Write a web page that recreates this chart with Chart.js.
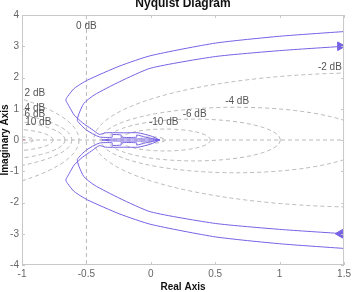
<!DOCTYPE html>
<html>
<head>
<meta charset="utf-8">
<script src="https://cdn.jsdelivr.net/npm/chart.js@4/dist/chart.umd.min.js"></script>
<style>
  html, body { margin: 0; padding: 0; background: #fff; }
  #wrap { width: 354px; height: 292px; }
</style>
</head>
<body>
<div id="wrap"><canvas id="grafica-nyquist"></canvas></div>
<script>
// datos
var xTicks = [-1, -0.5, 0, 0.5, 1, 1.5];
var yTicks = [-4, -3, -2, -1, 0, 1, 2, 3, 4];

// rama exterior superior
var outerUpRe = [1.5, 1.0, 0.5, 0.0, -0.24, -0.49, -0.595, -0.646, -0.66, -0.633, -0.595, -0.53, -0.46, -0.40, -0.35, -0.2, -0.1, 0.0, 0.07];
var outerUpIm = [3.47, 3.32, 3.1, 2.7, 2.37, 1.92, 1.65, 1.39, 1.28, 1.07, 0.8, 0.55, 0.35, 0.18, 0.23, 0.23, 0.23, 0.13, 0.0];
// rama interior superior
var innerUpRe = [1.5, 1.0, 0.5, 0.0, -0.24, -0.44, -0.52, -0.557, -0.57, -0.50, -0.40, -0.30, -0.30, -0.23, -0.23, -0.11, -0.11, -0.04, 0.07];
var innerUpIm = [3.0, 2.86, 2.67, 2.3, 1.87, 1.44, 1.17, 0.85, 0.62, 0.32, 0.10, 0.09, 0.17, 0.16, 0.09, 0.09, 0.16, 0.09, 0.0];
// rama exterior inferior
var outerDnRe = [1.5, 1.0, 0.5, 0.0, -0.24, -0.49, -0.595, -0.646, -0.66, -0.633, -0.595, -0.53, -0.46, -0.40, -0.35, -0.2, -0.1, 0.0, 0.07];
var outerDnIm = [-3.47, -3.32, -3.1, -2.7, -2.37, -1.92, -1.65, -1.39, -1.28, -1.07, -0.8, -0.55, -0.35, -0.18, -0.23, -0.23, -0.23, -0.13, 0.0];
// rama interior inferior
var innerDnRe = [1.5, 1.0, 0.5, 0.0, -0.24, -0.44, -0.52, -0.557, -0.57, -0.50, -0.40, -0.30, -0.30, -0.23, -0.23, -0.11, -0.11, -0.04, 0.07];
var innerDnIm = [-3.0, -2.86, -2.67, -2.3, -1.87, -1.44, -1.17, -0.85, -0.62, -0.32, -0.10, -0.09, -0.17, -0.16, -0.09, -0.09, -0.16, -0.09, 0.0];
// nucleo cerca del origen
var coreRe = [-0.38, -0.3, 0.0, 0.07, 0.0, -0.3, -0.38];
var coreIm = [0.0, 0.03, 0.03, 0.0, -0.03, -0.03, 0.0];

// flechas
var arrowRe = [1.47, 1.47];
var arrowIm = [3.0, -3.0];

// circulos M (dB) y sus etiquetas
var mLevels = [20, 10, 6, 4, 2, -2, -4, -6, -10, -20];
var gridLabels = ['0 dB', '2 dB', '4 dB', '6 dB', '10 dB', '-10 dB', '-6 dB', '-4 dB', '-2 dB'];
var labelRe = [-0.5, -0.9, -0.9, -0.9, -0.874, 0.10, 0.34, 0.67, 1.39];
var labelIm = [3.65, 1.5, 1.02, 0.82, 0.56, 0.56, 0.83, 1.25, 2.34];

var morado = 'rgb(118,98,228)';
var grisRejilla = 'rgb(185,185,185)';
var fuente = '"Liberation Sans", Arial, sans-serif';

function puntos(re, im){
    return re.map(function(v, i){ return {x: v, y: im[i]}; });
}
function serie(re, im){
    return {
        data: puntos(re, im),
        showLine: true,
        borderColor: morado,
        borderWidth: 1,
        pointRadius: 0,
        tension: 0.2
    };
}

var rejillaM = {
    id: 'rejillaM',
    beforeDatasetsDraw: function(chart){
        var ctx = chart.ctx, a = chart.chartArea;
        var sx = chart.scales.x, sy = chart.scales.y;
        ctx.save();
        ctx.beginPath();
        ctx.rect(a.left, a.top, a.right - a.left, a.bottom - a.top);
        ctx.clip();
        ctx.strokeStyle = grisRejilla;
        ctx.lineWidth = 1;
        ctx.setLineDash([4, 3]);
        mLevels.forEach(function(db){
            var m2 = Math.pow(10, db / 10);
            var c = -m2 / (m2 - 1);
            var r = Math.abs(Math.sqrt(m2) / (m2 - 1));
            var cx = sx.getPixelForValue(c), cy = sy.getPixelForValue(0);
            var rx = Math.abs(sx.getPixelForValue(c + r) - cx);
            var ry = Math.abs(sy.getPixelForValue(r) - cy);
            ctx.beginPath();
            ctx.ellipse(cx, cy, rx, ry, 0, 0, Math.PI * 2);
            ctx.stroke();
        });
        // linea 0 dB y eje real
        var x0 = sx.getPixelForValue(-0.5);
        ctx.beginPath(); ctx.moveTo(x0, a.top); ctx.lineTo(x0, a.bottom); ctx.stroke();
        var y0 = sy.getPixelForValue(0);
        ctx.beginPath(); ctx.moveTo(a.left, y0); ctx.lineTo(a.right, y0); ctx.stroke();
        ctx.setLineDash([]);
        // punto critico
        var pcx = sx.getPixelForValue(-1);
        ctx.strokeStyle = 'rgb(240,60,60)';
        ctx.beginPath(); ctx.moveTo(pcx - 3, y0); ctx.lineTo(pcx + 3, y0);
        ctx.moveTo(pcx, y0 - 3); ctx.lineTo(pcx, y0 + 3); ctx.stroke();
        // etiquetas dB
        ctx.fillStyle = '#555';
        ctx.font = '10px ' + fuente;
        ctx.textAlign = 'center';
        ctx.textBaseline = 'middle';
        gridLabels.forEach(function(t, i){
            ctx.fillText(t, sx.getPixelForValue(labelRe[i]), sy.getPixelForValue(labelIm[i]));
        });
        ctx.restore();
    },
    afterDraw: function(chart){
        var ctx = chart.ctx, a = chart.chartArea;
        var sx = chart.scales.x, sy = chart.scales.y;
        ctx.save();
        ctx.strokeStyle = 'rgb(200,200,200)';
        ctx.lineWidth = 1;
        ctx.strokeRect(a.left + 0.5, a.top + 0.5, a.right - a.left - 1, a.bottom - a.top - 1);
        // marcas hacia dentro
        xTicks.forEach(function(v){
            var p = Math.round(sx.getPixelForValue(v)) + 0.5;
            ctx.beginPath(); ctx.moveTo(p, a.bottom); ctx.lineTo(p, a.bottom - 3);
            ctx.moveTo(p, a.top); ctx.lineTo(p, a.top + 3); ctx.stroke();
        });
        yTicks.forEach(function(v){
            var p = Math.round(sy.getPixelForValue(v)) + 0.5;
            ctx.beginPath(); ctx.moveTo(a.left, p); ctx.lineTo(a.left + 3, p);
            ctx.moveTo(a.right, p); ctx.lineTo(a.right - 3, p); ctx.stroke();
        });
        ctx.fillStyle = '#111';
        ctx.textAlign = 'center';
        ctx.textBaseline = 'alphabetic';
        ctx.font = 'bold 12px ' + fuente;
        ctx.fillText('Nyquist Diagram', (a.left + a.right) / 2, 7);
        ctx.font = 'bold 10px ' + fuente;
        ctx.fillText('Real Axis', (a.left + a.right) / 2, 290);
        ctx.translate(8, (a.top + a.bottom) / 2);
        ctx.rotate(-Math.PI / 2);
        ctx.fillText('Imaginary Axis', 0, 0);
        ctx.restore();
    }
};

var datasets = [
    serie(outerUpRe, outerUpIm),
    serie(innerUpRe, innerUpIm),
    serie(outerDnRe, outerDnIm),
    serie(innerDnRe, innerDnIm),
    serie(coreRe, coreIm),
    {
        data: puntos(arrowRe, arrowIm),
        showLine: false,
        pointStyle: 'triangle',
        pointRadius: 5,
        rotation: [90, -90],
        backgroundColor: morado,
        borderColor: morado
    }
];

var etiqueta = function(v){ return String(v); };

var canvas = document.getElementById('grafica-nyquist').getContext('2d');
var chart = new Chart(canvas, {
    type: 'scatter',
    data: { datasets: datasets },
    options: {
        responsive: true,
        maintainAspectRatio: false,
        animation: false,
        layout: { padding: { top: 15, right: 5, left: 0, bottom: 0 } },
        plugins: { legend: { display: false }, tooltip: { enabled: false } },
        scales: {
            x: {
                type: 'linear', min: -1, max: 1.5,
                afterBuildTicks: function(s){ s.ticks = xTicks.map(function(v){ return {value: v}; }); },
                afterFit: function(s){ s.height = 27; },
                grid: { display: false, drawTicks: false },
                border: { display: false },
                ticks: { color: '#666', font: { size: 10, family: fuente }, padding: 3, maxRotation: 0, autoSkip: false, callback: etiqueta }
            },
            y: {
                type: 'linear', min: -4, max: 4,
                afterBuildTicks: function(s){ s.ticks = yTicks.map(function(v){ return {value: v}; }); },
                afterFit: function(s){ s.width = 22; },
                grid: { display: false, drawTicks: false },
                border: { display: false },
                ticks: { color: '#666', font: { size: 10, family: fuente }, padding: 3, autoSkip: false, callback: etiqueta }
            }
        }
    },
    plugins: [rejillaM]
});
</script>
</body>
</html>
